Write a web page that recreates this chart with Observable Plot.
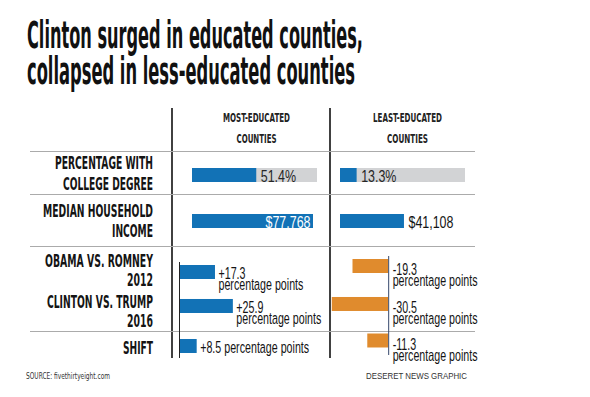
<!DOCTYPE html>
<html><head><meta charset="utf-8">
<script src="https://cdn.jsdelivr.net/npm/d3@7"></script>
<script src="https://cdn.jsdelivr.net/npm/@observablehq/plot@0.6"></script>
<style>
html,body{margin:0;padding:0;background:#fff;}
#chart{position:relative;width:590px;height:397px;overflow:hidden;background:#fff;}
#chart svg{position:absolute;overflow:visible;}
</style></head><body><div id="chart"></div>
<script>
// ---------- data ----------
const title = ["Clinton surged in educated counties,", "collapsed in less-educated counties"];
const groups = [["MOST-EDUCATED", "COUNTIES"], ["LEAST-EDUCATED", "COUNTIES"]];
const rowLabels = [["PERCENTAGE WITH", "COLLEGE DEGREE"], ["MEDIAN HOUSEHOLD", "INCOME"], ["OBAMA VS. ROMNEY", "2012"], ["CLINTON VS. TRUMP", "2016"], ["SHIFT"]];
const raceRows = ["2012", "2016"];
const collegePct = [51.4, 13.3];          // most-educated, least-educated
const income = [77768, 41108];
const margin2012 = [17.3, -19.3];
const margin2016 = [25.9, -30.5];
const shift = [8.5, -11.3];
const unitLabel = "percentage points";
const source = "SOURCE: fivethirtyeight.com";
const credit = "DESERET NEWS GRAPHIC";

// ---------- style ----------
const BLUE = "#1272b6", ORANGE = "#e08b2d", GRAY = "#d2d3d5", INK = "#141414";
const fontH = "'Liberation Sans Narrow','DejaVu Sans Condensed','DejaVu Sans',sans-serif";
const fontV = "'Liberation Sans',Arial,sans-serif";

const chart = document.getElementById("chart");

// ---------- static overlay (title, headers, row labels, rules) ----------
const ov = d3.select(chart).append("svg").attr("width", 590).attr("height", 397)
  .style("left", "0px").style("top", "0px");

function label(txt, x, y, o) {
  const t = ov.append("text").attr("x", x).attr("y", y)
    .attr("text-anchor", o.anchor || "start")
    .attr("font-size", o.size).attr("font-weight", o.weight || "bold")
    .attr("font-family", o.family || fontH).attr("fill", o.fill || INK).text(txt);
  if (o.width) t.attr("textLength", o.width).attr("lengthAdjust", "spacingAndGlyphs");
  return t;
}
function naturalWidth(str, size, family) {
  const t = ov.append("text").attr("font-size", size).attr("font-family", family).text(str);
  const w = t.node().getComputedTextLength();
  t.remove();
  return w;
}

// lines
[172, 330].forEach(x => ov.append("line").attr("x1", x).attr("x2", x).attr("y1", 108).attr("y2", 358)
  .attr("stroke", "#111").attr("stroke-width", 1.6));
[151.5, 194.5, 246.5, 331.5].forEach(y => ov.append("line").attr("x1", 30).attr("x2", 475).attr("y1", y).attr("y2", y)
  .attr("stroke", "#ababab").attr("stroke-width", 1));

// title
label(title[0], 27, 48, {size: 37, width: 336, fill: "#111"});
label(title[1], 27, 84, {size: 37, width: 328, fill: "#111"});

// column headers
const headLayout = [[256.5, [67, 40]], [407.5, [69, 41]]];
groups.forEach((g, i) => {
  const [cx, ws] = headLayout[i];
  g.forEach((line, j) => label(line, cx, j === 0 ? 122 : 143, {size: 12.5, anchor: "middle", width: ws[j], fill: "#222"}));
});

// row labels
const rowLayout = [[[169, 98], [190, 90]], [[217, 110], [237, 41]], [[267, 108], [286, 26]], [[308, 106], [327, 26]], [[354, 30]]];
rowLabels.forEach((lines, i) => lines.forEach((line, j) => {
  const [y, w] = rowLayout[i][j];
  label(line, 153, y, {size: 17.5, anchor: "end", width: w});
}));

// footer
label(source, 26, 379, {size: 9.5, weight: "normal", width: 84, fill: "#333"});
label(credit, 366, 379, {size: 9.5, weight: "normal", width: 101, fill: "#333", family: fontV});

// ---------- Plot panels ----------
function panel({left, top, width, height, x, y, marks}) {
  const opts = {width, height, margin: 0, x: {...x, axis: null}, style: {background: "transparent", overflow: "visible"}, marks};
  if (y) opts.y = {...y, axis: null};
  const svg = Plot.plot(opts);
  svg.style.left = left + "px";
  svg.style.top = top + "px";
  svg.style.maxWidth = "none";
  chart.appendChild(svg);
  return svg;
}
function squeeze(svg, k) {
  svg.querySelectorAll("text").forEach(t => {
    const spans = t.querySelectorAll("tspan");
    const els = spans.length ? [...spans] : [t];
    els.forEach(e => {
      const w = e.getComputedTextLength();
      if (w > 0) { e.setAttribute("textLength", w * k); e.setAttribute("lengthAdjust", "spacingAndGlyphs"); }
    });
  });
}

// condensing factors (the reference uses a condensed face)
const VAL_SIZE = 16.5, PTS_SIZE = 16.5;
const kVal = 45 / naturalWidth("$41,108", VAL_SIZE, fontV);
const kPts = 85 / naturalWidth(unitLabel, PTS_SIZE, fontV);

// college degree
[0, 1].forEach(i => {
  squeeze(panel({left: i === 0 ? 192 : 340, top: 168, width: 125, height: 14,
    x: {domain: [0, 100], range: [0, 125]},
    marks: [
      Plot.barX([100], {x: d => d, fill: GRAY}),
      Plot.barX([collegePct[i]], {x: d => d, fill: BLUE}),
      Plot.text([collegePct[i]], {x: d => d, text: d => d.toFixed(1) + "%", textAnchor: "start", dx: 4, dy: 1,
        fill: "#262626", fontSize: VAL_SIZE, fontFamily: fontV})
    ]}), kVal);
});

// median household income
const incomeMax = d3.max(income);
[0, 1].forEach(i => {
  squeeze(panel({left: i === 0 ? 192 : 340, top: 214, width: 121, height: 14,
    x: {domain: [0, incomeMax], range: [0, 121]},
    marks: [
      Plot.barX([income[i]], {x: d => d, fill: BLUE}),
      Plot.text([income[i]], {x: d => d, text: d => d3.format("$,")(d), textAnchor: "start",
        dx: i === 0 ? -48 : 4, dy: 1, fill: i === 0 ? "#fff" : INK, fontSize: VAL_SIZE, fontFamily: fontV})
    ]}), kVal);
});

// election margins
const fmtPts = (d, sep) => (d > 0 ? "+" : "") + d.toFixed(1) + sep + unitLabel;
const raceData = side => raceRows.map((r, k) => ({row: r, v: [margin2012, margin2016][k][side]}));
const shiftData = side => [{row: "SHIFT", v: shift[side]}];
const txt = {fontSize: PTS_SIZE, fontFamily: fontV, fill: INK, textAnchor: "start", lineAnchor: "top", lineHeight: 0.67};

// most-educated (positive, zero at left)
const xL = {domain: [0, 30], range: [0, 62.4]};
squeeze(panel({left: 179, top: 262, width: 62.4, height: 69, x: xL,
  y: {type: "band", domain: raceRows, range: [3, 51], paddingInner: 0.588, paddingOuter: 0, round: false},
  marks: [
    Plot.barX(raceData(0), {y: "row", x: "v", fill: BLUE}),
    Plot.ruleX([0], {stroke: "#222", strokeWidth: 1}),
    Plot.text(raceData(0), {y: "row", x: "v", text: d => fmtPts(d.v, "\n"), dx: 3, dy: -1, ...txt})
  ]}), kPts);
squeeze(panel({left: 179, top: 331, width: 62.4, height: 27, x: xL,
  y: {type: "band", domain: ["SHIFT"], range: [8, 22], padding: 0, round: false},
  marks: [
    Plot.barX(shiftData(0), {y: "row", x: "v", fill: BLUE}),
    Plot.ruleX([0], {stroke: "#222", strokeWidth: 1}),
    Plot.text(shiftData(0), {y: "row", x: "v", text: d => fmtPts(d.v, " "), dx: 3, dy: -1, ...txt})
  ]}), kPts);

// least-educated (negative, zero at right, labels right of zero)
const xR = {domain: [-32, 0], range: [0, 59.2]};
squeeze(panel({left: 329.3, top: 256, width: 59.2, height: 75, x: xR,
  y: {type: "band", domain: raceRows, range: [3, 55], paddingInner: 0.6316, paddingOuter: 0, round: false},
  marks: [
    Plot.barX(raceData(1), {y: "row", x: "v", fill: ORANGE}),
    Plot.ruleX([0], {stroke: "#34476b", strokeWidth: 1}),
    Plot.text(raceData(1), {y: "row", x: 0, text: d => fmtPts(d.v, "\n"), dx: 4, dy: 1, ...txt})
  ]}), kPts);
squeeze(panel({left: 329.3, top: 331, width: 59.2, height: 24, x: xR,
  y: {type: "band", domain: ["SHIFT"], range: [2.5, 16.5], padding: 0, round: false},
  marks: [
    Plot.barX(shiftData(1), {y: "row", x: "v", fill: ORANGE}),
    Plot.ruleX([0], {stroke: "#34476b", strokeWidth: 1}),
    Plot.text(shiftData(1), {y: "row", x: 0, text: d => fmtPts(d.v, "\n"), dx: 4, dy: 1, ...txt})
  ]}), kPts);
</script></body></html>
